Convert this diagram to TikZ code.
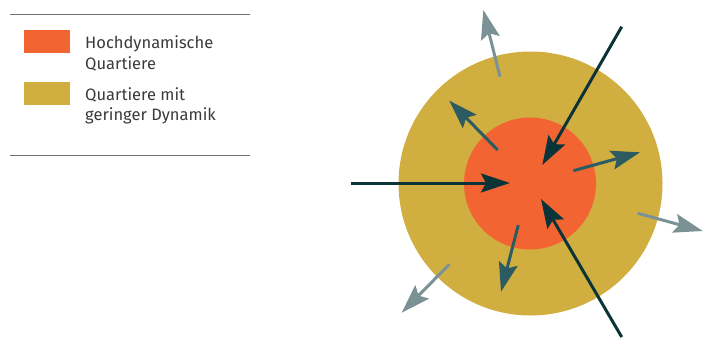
\documentclass[tikz,border=0pt]{standalone}
\usepackage{xcolor}
\usepackage{fontspec}
\usepackage{tikz}
\usetikzlibrary{arrows.meta,positioning}
\newfontfamily\legendfont{Fira Sans}
\definecolor{dynhigh}{HTML}{F26532}
\definecolor{dynlow}{HTML}{D1AE40}
\definecolor{flowin}{HTML}{0B3438}
\definecolor{flowmid}{HTML}{2C5B61}
\definecolor{flowout}{HTML}{7B9294}
\definecolor{legrule}{HTML}{6E6E6E}
\definecolor{legtext}{HTML}{3A3A3A}
\tikzset{
  zone/.style={circle,draw=none,inner sep=0pt},
  swatch/.style={draw=none,minimum width=46pt,minimum height=23pt,inner sep=0pt},
  legtxt/.style={anchor=base west,align=left,inner sep=0pt,text=legtext,
    font=\legendfont\fontsize{16.5}{20.7}\selectfont},
  legline/.style={draw=legrule,line width=1pt},
  flow/.style={line width=3pt,-{Stealth[length=29pt,width=19pt,inset=5pt]}},
  inflow/.style={flow,draw=flowin,fill=flowin},
  midflow/.style={flow,draw=flowmid,fill=flowmid},
  outflow/.style={flow,draw=flowout,fill=flowout}
}

\begin{document}
\begin{tikzpicture}[x=1pt,y=-1pt]
  \useasboundingbox (0,0) rectangle (703,338);
  % legend
  \draw[legline] (10,14) -- (250,14);
  \draw[legline] (10,155.7) -- (250,155.7);
  \node[swatch,fill=dynhigh] (keyhigh) at (47,41.3) {};
  \node[swatch,fill=dynlow] (keylow) at (47,93.3) {};
  \node[legtxt] (txthigh) at (85,69) {Hochdynamische\\Quartiere};
  \node[legtxt] (txtlow) at (85,120.7) {Quartiere mit\\geringer Dynamik};
  % zones
  \node[zone,fill=dynlow,minimum size=264pt] (outer) at (530.5,183.5) {};
  \node[zone,fill=dynhigh,minimum size=132pt] (inner) at (530,183.5) {};
  % arrow ends
  \coordinate (w0) at (351,183);      \coordinate (w1) at (510,183);
  \coordinate (ne0) at (621.7,26.7);  \coordinate (ne1) at (542.3,165);
  \coordinate (se0) at (621.7,337);   \coordinate (se1) at (541,199);
  \coordinate (a0) at (497.7,150);    \coordinate (a1) at (449.3,100.7);
  \coordinate (b0) at (573.3,170.7);  \coordinate (b1) at (640,152.3);
  \coordinate (c0) at (518.3,225);    \coordinate (c1) at (501,291.7);
  \coordinate (d0) at (500,76.7);     \coordinate (d1) at (483.3,10);
  \coordinate (e0) at (637.7,213.3);  \coordinate (e1) at (702.7,231);
  \coordinate (f0) at (449.3,264.3);  \coordinate (f1) at (401.7,312.7);
  % flows
  \draw[inflow] (w0) -- (w1);
  \draw[inflow] (ne0) -- (ne1);
  \draw[inflow] (se0) -- (se1);
  \draw[midflow] (a0) -- (a1);
  \draw[midflow] (b0) -- (b1);
  \draw[midflow] (c0) -- (c1);
  \draw[outflow] (d0) -- (d1);
  \draw[outflow] (e0) -- (e1);
  \draw[outflow] (f0) -- (f1);
\end{tikzpicture}
\end{document}
